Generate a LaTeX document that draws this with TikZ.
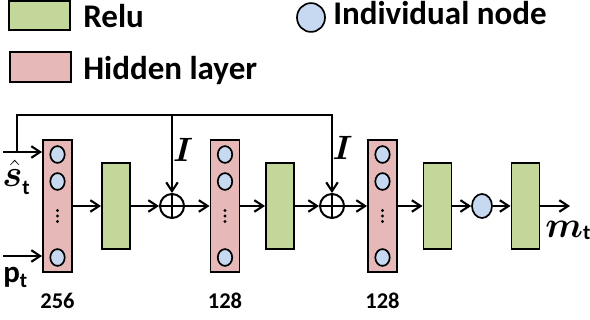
\RequirePackage{fix-cm}
\documentclass[tikz,border=0pt]{standalone}
\usepackage{fontspec}
\setmainfont{Carlito}
\usepackage{amsmath}
\usepackage{bm}
\usetikzlibrary{arrows.meta}
\usetikzlibrary{shapes.geometric}
\definecolor{relugreen}{RGB}{196,215,155}
\definecolor{hiddenpink}{RGB}{230,185,184}
\definecolor{unitblue}{RGB}{198,217,241}

\newcommand{\subt}[1]{\raisebox{#1}{\fontsize{15}{18}\selectfont\bfseries t}}

\tikzset{
 relu/.style={draw, fill=relugreen, line width=1.4pt, minimum width=0.7cm, minimum height=2.15cm, inner sep=0},
 hidden/.style={draw, fill=hiddenpink, line width=1.4pt, minimum width=0.725cm, minimum height=3.275cm, inner sep=0},
 unit/.style={ellipse, draw, fill=unitblue, line width=1.2pt, minimum width=0.36cm, minimum height=0.42cm, inner sep=0},
 sumnode/.style={circle, draw, line width=1.4pt, minimum size=0.6cm, inner sep=0,
   path picture={\draw[line width=1.2pt] (path picture bounding box.north) -- (path picture bounding box.south)
   (path picture bounding box.west) -- (path picture bounding box.east);}},
 arr/.style={-{Straight Barb[length=2.2mm, width=2.9mm]}, line width=1.5pt},
 legtext/.style={anchor=base west, inner sep=0, font=\fontsize{23.5}{28}\selectfont\bfseries},
 numtext/.style={anchor=base, inner sep=0, font=\fontsize{16}{19}\selectfont\bfseries},
 mathtext/.style={inner sep=0}
}

\begin{document}
\begin{tikzpicture}[x=0.025cm, y=-0.025cm]
\useasboundingbox (0,0) rectangle (590,320);

 %legend:
 \node[relu, minimum width=1.525cm, minimum height=0.725cm] (legrelu) at (39.5,15.5) {};
 \node[legtext] (legrelutext) at (83,28) {Relu};
 \node[hidden, minimum width=1.525cm, minimum height=0.75cm] (leghidden) at (40.5,67) {};
 \node[legtext] (leghiddentext) at (83,80) {Hidden layer};
 \node[unit, minimum width=0.7cm, minimum height=0.72cm] (legunit) at (311,17.5) {};
 \node[legtext] (legunittext) at (333,25) {Individual node};

 %layers
 \node[hidden] (h1) at (57.5,206) {};
 \node[relu] (r1) at (116,206) {};
 \node[sumnode] (plus1) at (172,206) {};
 \node[hidden] (h2) at (225,206) {};
 \node[relu] (r2) at (280,206) {};
 \node[sumnode] (plus2) at (332,206) {};
 \node[hidden] (h3) at (382.5,206) {};
 \node[relu] (r3) at (437.5,206) {};
 \node[unit, minimum width=0.5cm, minimum height=0.6cm] (single) at (482,206) {};
 \node[relu] (r4) at (525.5,206) {};

 %units inside the hidden layers
 \foreach \h in {h1,h2,h3}{
  \path (\h.center) ++(0,-51.5) node[unit] (\h-1) {};
  \path (\h.center) ++(0,-24.5) node[unit] (\h-2) {};
  \path (\h.center) ++(0,51.5) node[unit] (\h-3) {};
  \foreach \d in {4.5,10,15.5}
   \fill (\h.center) ++(0,\d) circle (1.2pt);
 }

 %inputs and output
 \coordinate (sin) at (3,152);
 \coordinate (pin) at (3,256);
 \coordinate (fork) at (17,152);
 \coordinate (top) at (0,115);
 \coordinate (out) at (570,206);

 \draw[arr] (sin) -- (sin -| h1.west);
 \draw[arr] (pin) -- (pin -| h1.west);
 \draw[arr] (fork) |- (plus2 |- top) -- (plus2.north);
 \draw[arr] (plus1 |- top) -- (plus1.north);

 \draw[arr] (h1) -- (r1);
 \draw[arr] (r1) -- (plus1);
 \draw[arr] (plus1) -- (h2);
 \draw[arr] (h2) -- (r2);
 \draw[arr] (r2) -- (plus2);
 \draw[arr] (plus2) -- (h3);
 \draw[arr] (h3) -- (r3);
 \draw[arr] (r3) -- (single);
 \draw[arr] (single) -- (r4);
 \draw[arr] (r4) -- (out);

 %labels
 \node[mathtext, anchor=base west] (slabel) at (2,187)
  {{\fontsize{27}{30}\selectfont$\bm{\hat{s}}$}\subt{-5.5pt}};
 \node[mathtext, anchor=base west] (plabel) at (3,282)
  {{\fontsize{22}{26}\selectfont\bfseries p}\subt{-4pt}};
 \node[mathtext, anchor=base west] (mlabel) at (545,237)
  {{\fontsize{26}{30}\selectfont$\bm{m}$}\subt{-2pt}};
 \node[mathtext, anchor=base, font=\fontsize{24}{28}\selectfont] (ilabel1) at (183,162) {$\bm{I}$};
 \node[mathtext, anchor=base, font=\fontsize{24}{28}\selectfont] (ilabel2) at (342.5,160) {$\bm{I}$};
 \node[numtext] (n1) at (57.5,308) {256};
 \node[numtext] (n2) at (225,308) {128};
 \node[numtext] (n3) at (382.5,308) {128};
\end{tikzpicture}
\end{document}
